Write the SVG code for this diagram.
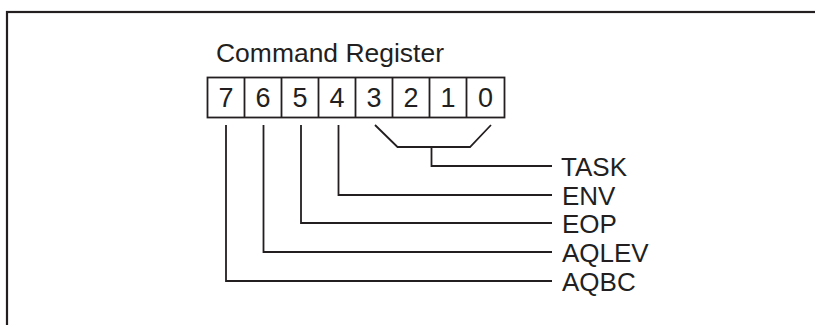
<svg xmlns="http://www.w3.org/2000/svg" width="815" height="325" viewBox="0 0 815 325">
<style>
text{font-family:"Liberation Sans",Arial,sans-serif;fill:#231f20;font-size:26px}
.ln{fill:none;stroke:#231f20;stroke-width:1.8}
.digit{text-anchor:middle;font-size:27px}
</style>
<rect x="0" y="0" width="815" height="325" fill="#fff"/>
<rect id="frame" x="7" y="12" width="830" height="340" fill="none" stroke="#231f20" stroke-width="2.2"/>
<g id="title"><text x="216" y="62" textLength="228" lengthAdjust="spacingAndGlyphs">Command Register</text></g>
<g id="register">
<rect class="ln" x="207.5" y="77.5" width="297" height="40"/>
<path class="ln" d="M244.5 77.5V117.5M281.5 77.5V117.5M318.5 77.5V117.5M355.5 77.5V117.5M392.5 77.5V117.5M429.5 77.5V117.5M466.5 77.5V117.5"/>
<text class="digit" x="226" y="106.5">7</text>
<text class="digit" x="263" y="106.5">6</text>
<text class="digit" x="300" y="106.5">5</text>
<text class="digit" x="337" y="106.5">4</text>
<text class="digit" x="374" y="106.5">3</text>
<text class="digit" x="411" y="106.5">2</text>
<text class="digit" x="448" y="106.5">1</text>
<text class="digit" x="485.5" y="106.5">0</text>
</g>
<g id="connectors">
<path class="ln" d="M226 125V281H552"/>
<path class="ln" d="M263.5 125V252H552"/>
<path class="ln" d="M301 125V223H552"/>
<path class="ln" d="M338.5 125V195H552"/>
<path class="ln" d="M375 125L397.5 147H470L491 125"/>
<path class="ln" d="M431.5 147V166H552"/>
</g>
<g id="task"><text x="561" y="176">TASK</text></g>
<g id="env"><text x="562" y="205">ENV</text></g>
<g id="eop"><text x="562" y="233">EOP</text></g>
<g id="aqlev"><text x="562" y="262">AQLEV</text></g>
<g id="aqbc"><text x="562" y="291">AQBC</text></g>
</svg>
